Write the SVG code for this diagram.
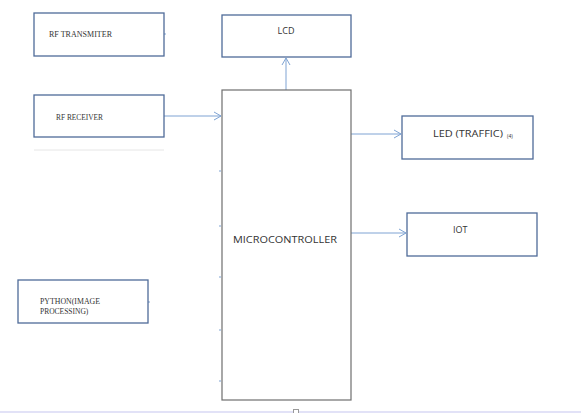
<svg xmlns="http://www.w3.org/2000/svg" width="581" height="413" viewBox="0 0 581 413">
<defs>
<marker id="arr" markerWidth="10" markerHeight="10" refX="8" refY="5" orient="auto" markerUnits="userSpaceOnUse">
<path d="M1,1 L8,5 L1,9" fill="none" stroke="#7ea3d3" stroke-width="1"/>
</marker>
</defs>
<style>
.box{fill:#fff;stroke:#4f6b99;stroke-width:1.3}
.mcu{fill:#fff;stroke:#6e6e6e;stroke-width:1.2}
.ln{stroke:#7ea3d3;stroke-width:1;fill:none}
.tick{stroke:#7ea3d3;stroke-width:1}
.ser{font-family:"Liberation Serif",serif;font-size:7.5px;fill:#333}
.sans{font-family:"Open Sans","Liberation Sans",sans-serif;font-size:9px;fill:#333}
.small{font-family:"Open Sans","Liberation Sans",sans-serif;font-size:5px;fill:#333}
</style>
<rect width="581" height="413" fill="#fff"/>
<g id="connectors">
<line class="ln" x1="164" y1="116" x2="221" y2="116" marker-end="url(#arr)"/>
<line class="ln" x1="286" y1="90" x2="286" y2="58" marker-end="url(#arr)"/>
<line class="ln" x1="351" y1="134" x2="401" y2="134" marker-end="url(#arr)"/>
<line class="ln" x1="351" y1="233" x2="406" y2="233" marker-end="url(#arr)"/>
<line class="tick" x1="164" y1="34" x2="166" y2="34"/>
<line class="tick" x1="148" y1="302" x2="150" y2="302"/>
<line class="tick" x1="219" y1="171" x2="221" y2="171"/>
<line class="tick" x1="219" y1="226" x2="221" y2="226"/>
<line class="tick" x1="219" y1="277" x2="221" y2="277"/>
<line class="tick" x1="219" y1="330" x2="221" y2="330"/>
<line class="tick" x1="219" y1="381" x2="221" y2="381"/>
</g>
<g id="rf-transmitter">
<rect class="box" x="34" y="13" width="130" height="43"/>
<text class="ser" x="49" y="37" textLength="63" lengthAdjust="spacingAndGlyphs">RF TRANSMITER</text>
</g>
<g id="rf-receiver">
<rect class="box" x="34" y="95" width="130" height="42"/>
<text class="ser" x="56" y="120" textLength="47" lengthAdjust="spacingAndGlyphs">RF RECEIVER</text>
<line x1="34" y1="150" x2="164" y2="150" stroke="#e6e6e6" stroke-width="1"/>
</g>
<g id="lcd">
<rect class="box" x="222" y="15" width="129" height="42"/>
<text class="sans" x="286" y="34" text-anchor="middle">LCD</text>
</g>
<g id="microcontroller">
<rect class="mcu" x="222" y="90" width="129" height="310"/>
<text class="sans" x="285" y="243" text-anchor="middle" textLength="104" lengthAdjust="spacingAndGlyphs">MICROCONTROLLER</text>
</g>
<g id="led">
<rect class="box" x="402" y="116" width="131" height="43"/>
<text class="sans" x="433" y="137" textLength="70" lengthAdjust="spacingAndGlyphs">LED (TRAFFIC)</text>
<text class="small" x="507" y="138">(4)</text>
</g>
<g id="iot">
<rect class="box" x="407" y="213" width="130" height="43"/>
<text class="sans" x="453" y="233">IOT</text>
</g>
<g id="python">
<rect class="box" x="18" y="280" width="130" height="43"/>
<text class="ser" x="40" y="304" textLength="60" lengthAdjust="spacingAndGlyphs">PYTHON(IMAGE</text>
<text class="ser" x="40" y="314">PROCESSING)</text>
</g>
<line x1="0" y1="412" x2="581" y2="412" stroke="#d8d8f4" stroke-width="1.5"/>
<rect x="293.5" y="409.5" width="5" height="4" fill="#fff" stroke="#999" stroke-width="1"/>
</svg>
